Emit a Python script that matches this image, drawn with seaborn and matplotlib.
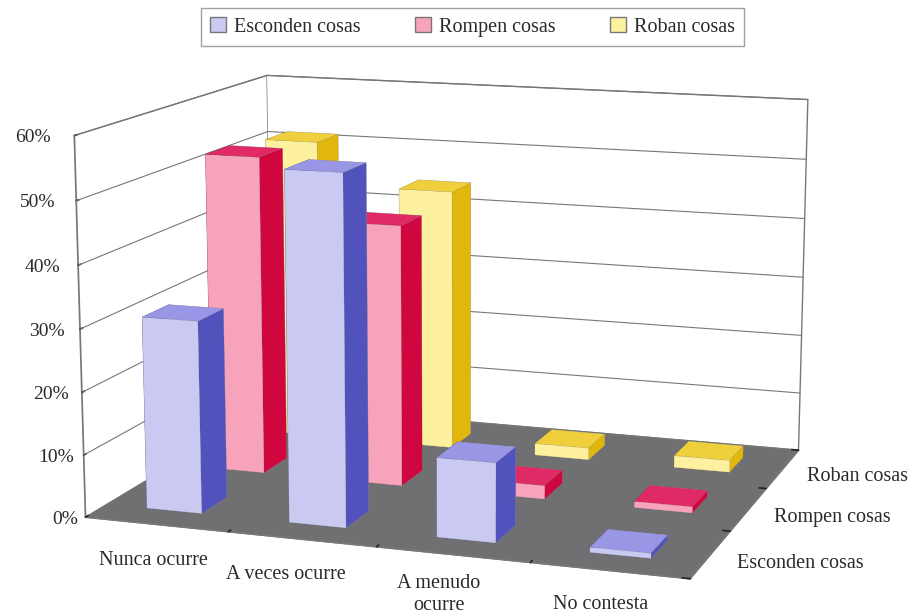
import matplotlib.pyplot as plt
import seaborn as sns
from matplotlib.patches import Patch

sns.set_theme(style='white')
plt.rcParams['font.family'] = ['Liberation Serif', 'DejaVu Serif']

categories = ['Nunca ocurre', 'A veces ocurre', 'A menudo\nocurre', 'No contesta']
series = ['Esconden cosas', 'Rompen cosas', 'Roban cosas']
esconden = [30.8, 55.3, 12.5, 0.8]
rompen = [52.6, 42.8, 2.2, 1]
roban = [51.4, 44.2, 2, 2]
z_ticks = [0, 10, 20, 30, 40, 50, 60]

front_colors = ['#c9c9f2', '#f7a3bb', '#fdf09f']
side_colors = ['#5252bd', '#d0063f', '#e2b70d']
top_colors = ['#9a96e6', '#e02a66', '#efd03c']
text_color = '#2a2a2a'
line_color = '#777777'

W, H = 913, 616
S, cx, cy = 825.1, 446.4, 313.2

fig = plt.figure(figsize=(W / 100, H / 100), dpi=100)
# camera values fitted to the corners of the reference box
ax = fig.add_axes([(cx - S / 2) / W, (H - cy - S / 2) / H, S / W, S / H],
                  projection='3d', computed_zorder=False)
ax.set_proj_type('persp', focal_length=0.617)
ax.view_init(elev=12.02, azim=-71.15)
ax.set_box_aspect((1, 0.778, 0.620), zoom=1)

values = [esconden, rompen, roban]
bar_w = 0.39
bar_d = 0.39
bar_shift = -0.02
# back to front so that the bars overlap the right way
for s in [2, 1, 0]:
    for c in range(len(categories)):
        ax.bar3d(c - bar_w / 2 + bar_shift, s - bar_d / 2, 0, bar_w, bar_d, values[s][c],
                 color=[front_colors[s], top_colors[s], front_colors[s],
                        front_colors[s], side_colors[s], side_colors[s]],
                 shade=False, edgecolor='#55555555', linewidth=0.3)

ax.set_xlim(-0.5, 3.5, view_margin=0)
ax.set_ylim(-0.5, 2.5, view_margin=0)
ax.set_zlim(0, 60, view_margin=0)

ax.xaxis.set_pane_color('#ffffff')
ax.yaxis.set_pane_color('#ffffff')
ax.zaxis.set_pane_color('#707073')
ax.set_xticks([0.5, 1.5, 2.5, 3.5])
ax.set_yticks([-0.5, 0.5, 1.5, 2.5])
ax.set_zticks(z_ticks)
ax.zaxis.set_ticks_position('lower')
for a in [ax.xaxis, ax.yaxis, ax.zaxis]:
    a.pane.set_edgecolor(line_color)
    a.pane.set_alpha(1)
    a.line.set_color(line_color)
    a._axinfo['tick']['inward_factor'] = 0
    a._axinfo['tick']['outward_factor'] = 0.15
    a._axinfo['tick']['color'] = line_color
    for tick in a.get_major_ticks():
        tick.label1.set_visible(False)
    a.get_offset_text().set_visible(False)
ax.grid(False)

# horizontal grid lines on the two walls
for z in z_ticks[1:]:
    ax.plot([-0.5, -0.5], [-0.5, 2.5], [z, z], color=line_color, lw=0.8, zorder=-1)
    ax.plot([-0.5, 3.5], [2.5, 2.5], [z, z], color=line_color, lw=0.8, zorder=-1)

label_shift = [0.31, 0.18, 0.18, 0.13]
label_y = [-1.18, -1.18, -1.25, -1.12]
for c, name in enumerate(categories):
    ax.text(c + label_shift[c], label_y[c], 0, name, ha='center', va='center',
            fontsize=14.5, color=text_color)
for s, name in enumerate(series):
    ax.text(3.70, s - 0.13, 0, name, ha='left', va='center',
            fontsize=14.5, color=text_color)
for z in z_ticks:
    ax.text(-0.553 - 0.0019 * z, -0.5, z - 0.5, f'{z}%', ha='right', va='center',
            fontsize=14, color=text_color)

handles = [Patch(facecolor=front_colors[i], edgecolor='#777777', label=series[i]) for i in range(3)]
fig.legend(handles=handles, loc='upper center', bbox_to_anchor=(0.5175, 0.987), ncol=3,
           frameon=True, fancybox=False, edgecolor='#888888', fontsize=14.5,
           labelcolor=text_color, handlelength=0.8, handleheight=0.8,
           handletextpad=0.4, columnspacing=2.7, borderaxespad=0, borderpad=0.45)

fig.savefig('out.png', dpi=100)
